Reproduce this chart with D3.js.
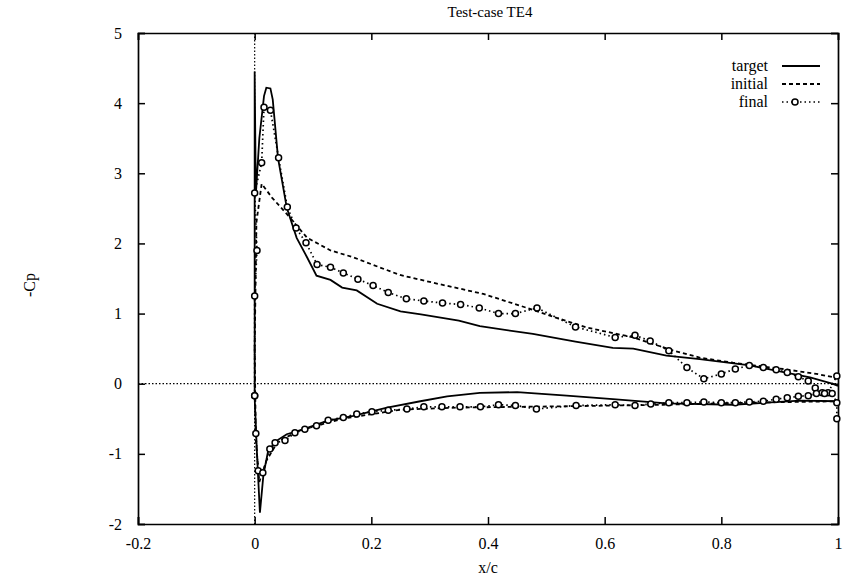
<!DOCTYPE html>
<html>
<head>
<meta charset="utf-8">
<script src="https://cdn.jsdelivr.net/npm/d3@7"></script>
<style>
  body { margin: 0; background: #fff; }
  text { font-family: "Liberation Serif", "DejaVu Serif", serif; fill: #000; }
</style>
</head>
<body>
<div id="chart"></div>
<script>
// valores (x/c, -Cp)
const xTicks = [-0.2, 0, 0.2, 0.4, 0.6, 0.8, 1];
const yTicks = [5, 4, 3, 2, 1, 0, -1, -2];

const targetUpper = [[0,-0.2],[0,4.45],[0.002,2.7],[0.008,3.5],[0.016,4.1],[0.02,4.22],[0.027,4.21],[0.031,4.05],[0.04,3.22],[0.055,2.51],[0.064,2.28],[0.072,2.08],[0.09,1.8],[0.106,1.54],[0.13,1.48],[0.15,1.37],[0.175,1.33],[0.21,1.14],[0.25,1.03],[0.285,0.99],[0.35,0.9],[0.386,0.82],[0.477,0.71],[0.55,0.6],[0.614,0.51],[0.649,0.5],[0.706,0.4],[0.763,0.35],[0.849,0.26],[0.952,0.09],[0.99,0.0],[1.0,-0.03]];
const targetLower = [[0,-0.2],[0.004,-1.0],[0.009,-1.84],[0.015,-1.3],[0.023,-0.96],[0.04,-0.8],[0.055,-0.72],[0.083,-0.65],[0.124,-0.53],[0.169,-0.46],[0.227,-0.34],[0.284,-0.25],[0.33,-0.18],[0.386,-0.13],[0.45,-0.12],[0.535,-0.17],[0.614,-0.22],[0.706,-0.28],[0.82,-0.3],[0.878,-0.27],[0.935,-0.24],[1.0,-0.25]];

const initialUpper = [[0,0.5],[0.003,2.3],[0.012,2.85],[0.03,2.65],[0.055,2.42],[0.09,2.08],[0.13,1.9],[0.17,1.8],[0.198,1.71],[0.249,1.55],[0.306,1.44],[0.392,1.28],[0.467,1.08],[0.506,0.97],[0.57,0.8],[0.649,0.66],[0.718,0.47],[0.764,0.37],[0.82,0.3],[0.906,0.21],[0.963,0.14],[1.0,0.08]];
const initialLower = [[0,0.5],[0.002,-0.8],[0.008,-1.4],[0.02,-1.1],[0.04,-0.82],[0.08,-0.66],[0.15,-0.5],[0.25,-0.37],[0.35,-0.34],[0.45,-0.33],[0.55,-0.32],[0.7,-0.3],[0.85,-0.27],[1.0,-0.25]];

const finalUpper = [[0,-0.17],[0,1.25],[0.004,1.9],[0,2.72],[0.012,3.15],[0.016,3.94],[0.027,3.9],[0.041,3.22],[0.056,2.52],[0.071,2.22],[0.088,2.01],[0.107,1.7],[0.13,1.66],[0.152,1.58],[0.177,1.49],[0.203,1.4],[0.229,1.3],[0.26,1.21],[0.29,1.18],[0.322,1.15],[0.353,1.13],[0.385,1.08],[0.418,1.0],[0.447,1.0],[0.484,1.08],[0.55,0.81],[0.618,0.66],[0.652,0.69],[0.678,0.61],[0.71,0.47],[0.741,0.23],[0.77,0.07],[0.8,0.14],[0.824,0.21],[0.848,0.26],[0.872,0.23],[0.894,0.2],[0.913,0.16],[0.932,0.1],[0.949,0.04],[0.961,-0.06],[0.973,-0.13],[0.983,-0.13],[0.998,0.11]];
const finalLower = [[0,-0.17],[0.002,-0.71],[0.006,-1.24],[0.014,-1.27],[0.026,-0.93],[0.035,-0.84],[0.052,-0.81],[0.069,-0.7],[0.086,-0.65],[0.106,-0.6],[0.126,-0.52],[0.152,-0.48],[0.175,-0.43],[0.201,-0.4],[0.229,-0.38],[0.261,-0.36],[0.29,-0.33],[0.321,-0.33],[0.352,-0.33],[0.387,-0.33],[0.418,-0.3],[0.447,-0.31],[0.483,-0.36],[0.551,-0.31],[0.618,-0.3],[0.652,-0.31],[0.679,-0.29],[0.71,-0.27],[0.741,-0.27],[0.77,-0.26],[0.8,-0.27],[0.824,-0.27],[0.848,-0.26],[0.872,-0.25],[0.894,-0.22],[0.913,-0.2],[0.932,-0.18],[0.949,-0.17],[0.963,-0.14],[0.977,-0.14],[0.99,-0.14],[0.998,-0.27],[0.998,-0.5]];

const legendLabels = ["target", "initial", "final"];

const width = 845, height = 577;
const margin = { top: 33, right: 7, bottom: 53, left: 138 };

const svg = d3.select("#chart").append("svg")
  .attr("width", width)
  .attr("height", height);

const x = d3.scaleLinear().domain([-0.2, 1]).range([margin.left, width - margin.right]);
const y = d3.scaleLinear().domain([-2, 5]).range([height - margin.bottom, margin.top]);

const ink = "#000";

// eixos zero pontilhados
svg.append("line")
  .attr("x1", x(-0.2)).attr("x2", x(1))
  .attr("y1", y(0)).attr("y2", y(0))
  .attr("stroke", ink).attr("stroke-width", 1.2).attr("stroke-dasharray", "1.5,2");
svg.append("line")
  .attr("x1", x(0)).attr("x2", x(0))
  .attr("y1", y(5)).attr("y2", y(-2))
  .attr("stroke", ink).attr("stroke-width", 1.2).attr("stroke-dasharray", "1.5,2");

// eixos com marcas para dentro
const tickLen = 7;
svg.append("g")
  .attr("transform", `translate(0,${y(-2)})`)
  .call(d3.axisBottom(x).tickValues(xTicks).tickSize(-tickLen).tickPadding(14).tickFormat(d => String(d)));
svg.append("g")
  .attr("transform", `translate(0,${y(5)})`)
  .call(d3.axisTop(x).tickValues(xTicks).tickSize(-tickLen).tickFormat(""));
svg.append("g")
  .attr("transform", `translate(${x(-0.2)},0)`)
  .call(d3.axisLeft(y).tickValues(yTicks).tickSize(-tickLen).tickPadding(16).tickFormat(d => String(d)));
svg.append("g")
  .attr("transform", `translate(${x(1)},0)`)
  .call(d3.axisRight(y).tickValues(yTicks).tickSize(-tickLen).tickFormat(""));

svg.selectAll(".domain").attr("stroke", ink).attr("stroke-width", 1.7);
svg.selectAll(".tick line").attr("stroke", ink).attr("stroke-width", 1.5);
svg.selectAll(".tick text").attr("font-size", 16).attr("fill", ink)
  .style("font-family", '"Liberation Serif", serif');

// títulos
svg.append("text")
  .attr("x", 490).attr("y", 17)
  .attr("text-anchor", "middle")
  .attr("font-size", 15)
  .text("Test-case TE4");
svg.append("text")
  .attr("x", x(0.4)).attr("y", 573)
  .attr("text-anchor", "middle")
  .attr("font-size", 16)
  .text("x/c");
svg.append("text")
  .attr("transform", "translate(35,285) rotate(-90)")
  .attr("text-anchor", "middle")
  .attr("font-size", 16)
  .text("-Cp");

const line = d3.line().x(d => x(d[0])).y(d => y(d[1]));

const styles = {
  target: { dash: null, width: 1.8 },
  initial: { dash: "4,3", width: 1.8 },
  final: { dash: "1.5,3", width: 1.7 }
};

function drawSeries(data, st) {
  svg.append("path")
    .datum(data)
    .attr("d", line)
    .attr("fill", "none")
    .attr("stroke", ink)
    .attr("stroke-width", st.width)
    .attr("stroke-dasharray", st.dash);
}

drawSeries(targetUpper, styles.target);
drawSeries(targetLower, styles.target);
drawSeries(initialUpper, styles.initial);
drawSeries(initialLower, styles.initial);
drawSeries(finalUpper, styles.final);
drawSeries(finalLower, styles.final);

// marcadores da série final
svg.append("g").selectAll("circle")
  .data(finalUpper.concat(finalLower))
  .join("circle")
  .attr("cx", d => x(d[0]))
  .attr("cy", d => y(d[1]))
  .attr("r", 3)
  .attr("fill", "#fff")
  .attr("stroke", ink)
  .attr("stroke-width", 1.5);

// legenda
const legend = svg.append("g");
legendLabels.forEach((name, i) => {
  const ly = 66 + i * 18;
  legend.append("text")
    .attr("x", 768).attr("y", ly + 5)
    .attr("text-anchor", "end")
    .attr("font-size", 16)
    .text(name);
  legend.append("line")
    .attr("x1", 782).attr("x2", 820)
    .attr("y1", ly).attr("y2", ly)
    .attr("stroke", ink)
    .attr("stroke-width", styles[name].width)
    .attr("stroke-dasharray", styles[name].dash);
  if (name === "final") {
    legend.append("circle")
      .attr("cx", 795).attr("cy", ly).attr("r", 3)
      .attr("fill", "#fff").attr("stroke", ink).attr("stroke-width", 1.5);
  }
});
</script>
</body>
</html>
